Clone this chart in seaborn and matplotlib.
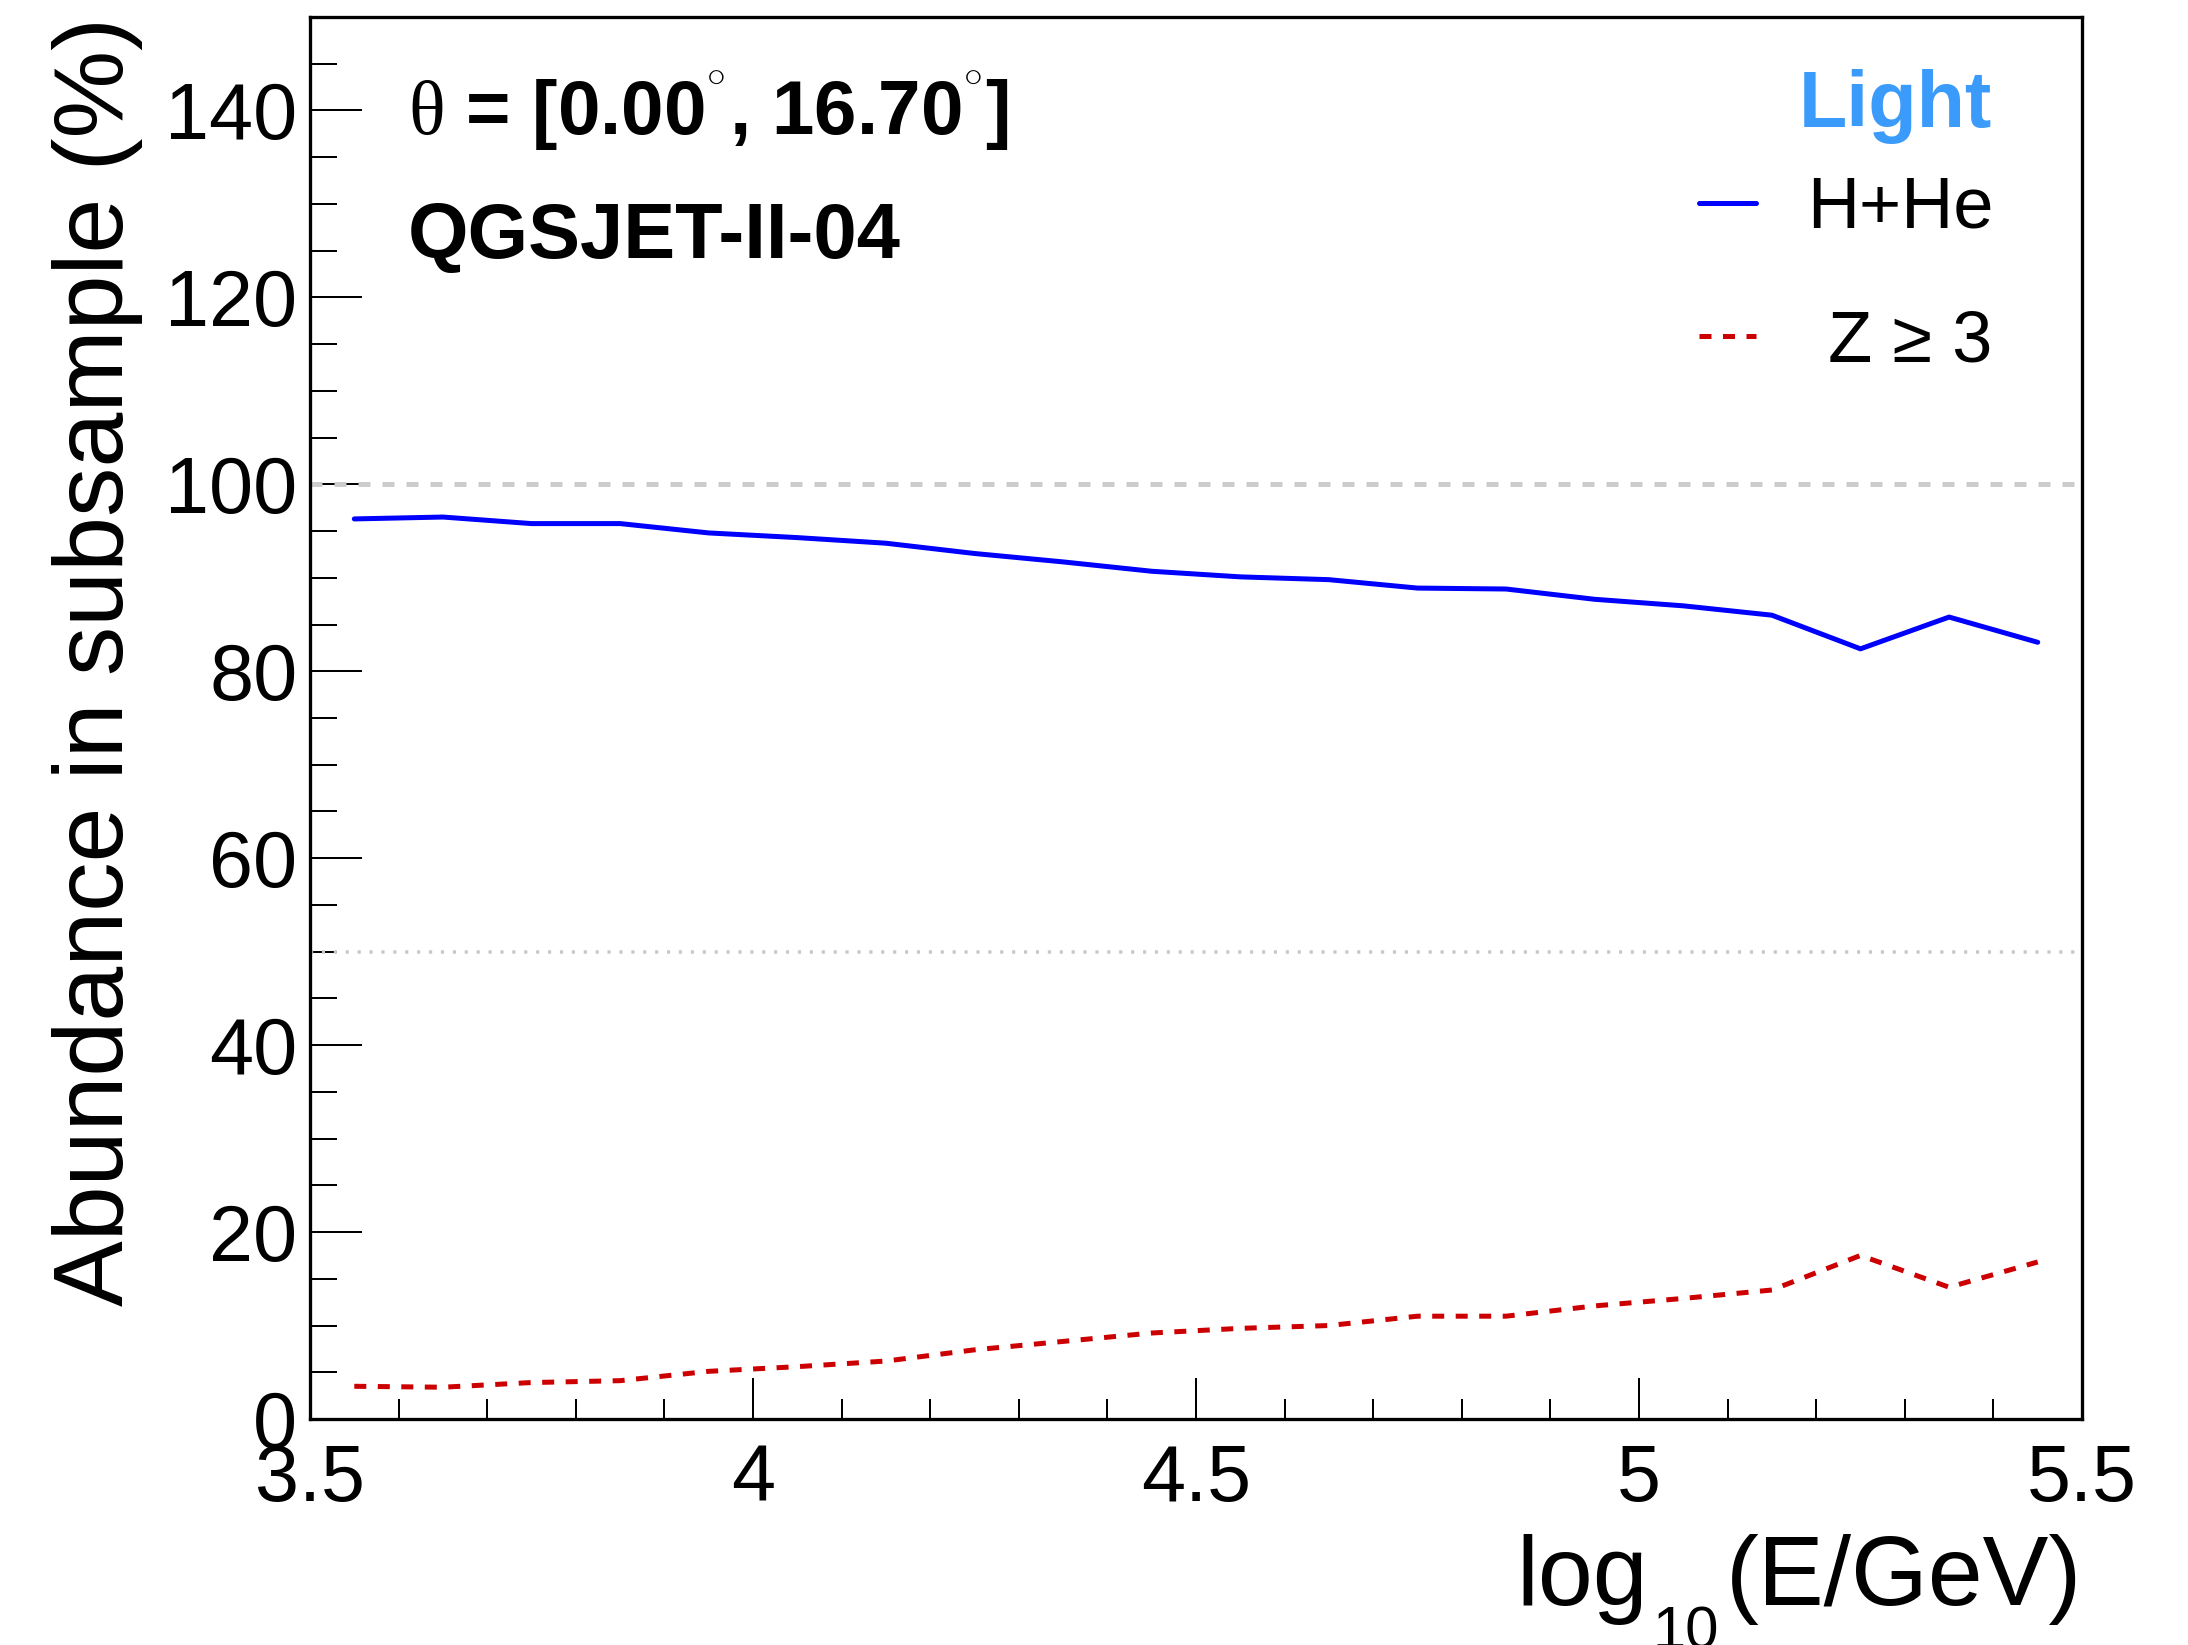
import numpy as np
import pandas as pd
import matplotlib
matplotlib.use("Agg")
import matplotlib.pyplot as plt
from matplotlib.ticker import MultipleLocator
import seaborn as sns

# ---------------- data ----------------
log_energy = [3.55, 3.65, 3.75, 3.85, 3.95, 4.05, 4.15, 4.25, 4.35, 4.45,
              4.55, 4.65, 4.75, 4.85, 4.95, 5.05, 5.15, 5.25, 5.35, 5.45]
light_hhe = [96.3, 96.5, 95.8, 95.8, 94.8, 94.3, 93.7, 92.6, 91.7, 90.7,
             90.1, 89.8, 88.9, 88.8, 87.7, 87.0, 86.0, 82.4, 85.8, 83.1]
heavy_z3 = [3.5, 3.4, 3.9, 4.1, 5.1, 5.6, 6.2, 7.4, 8.3, 9.2,
            9.7, 10.0, 11.0, 11.0, 12.1, 12.9, 13.8, 17.5, 14.1, 16.8]
series_labels = ["H+He", " Z \u2265 3"]
legend_title = "Light"
ref_levels = [100, 50]
x_ticks_major = [3.5, 4.0, 4.5, 5.0, 5.5]
x_tick_labels = ["3.5", "4", "4.5", "5", "5.5"]

df = pd.DataFrame({"logE": log_energy, "hhe": light_hhe, "z3": heavy_z3})

# ---------------- style ----------------
sns.set_style("ticks")
plt.rcParams["font.family"] = ["Liberation Sans", "DejaVu Sans"]
plt.rcParams["mathtext.fontset"] = "custom"
plt.rcParams["mathtext.rm"] = "Liberation Sans"
plt.rcParams["mathtext.it"] = "Liberation Sans:italic"
plt.rcParams["mathtext.bf"] = "Liberation Sans:bold"
plt.rcParams["mathtext.sf"] = "Liberation Sans"
plt.rcParams["mathtext.tt"] = "Liberation Serif"
for key in ["text.color", "axes.labelcolor", "xtick.color", "ytick.color",
            "axes.edgecolor"]:
    plt.rcParams[key] = "black"

PX = 0.72  # points per pixel at dpi 100
AX_W, AX_H = 2082 - 310, 1419 - 17

fig = plt.figure(figsize=(21.88, 16.45), dpi=100)
ax = fig.add_axes([310 / 2188, 1 - 1419 / 1645, AX_W / 2188, AX_H / 1645])

# reference lines
ax.axhline(ref_levels[0], color="#cccccc", lw=5 * PX, linestyle=(0, (2.4, 2.4)),
           dash_capstyle="butt", zorder=1)
ax.axhline(ref_levels[1], color="#c8c8c8", lw=3.5 * PX, linestyle=(0, (0.9, 2.5)),
           dash_capstyle="butt", zorder=1)

sns.lineplot(data=df, x="logE", y="hhe", ax=ax, color="#0000ff", lw=5 * PX,
             label=series_labels[0], zorder=3)
sns.lineplot(data=df, x="logE", y="z3", ax=ax, color="#cc0000", lw=5 * PX,
             linestyle=(0, (2.4, 2.3)), dash_capstyle="butt",
             label=series_labels[1], zorder=3)

ax.set_xlim(3.5, 5.5)
ax.set_ylim(0, 150)
ax.xaxis.set_major_locator(MultipleLocator(0.5))
ax.xaxis.set_minor_locator(MultipleLocator(0.1))
ax.yaxis.set_major_locator(MultipleLocator(20))
ax.yaxis.set_minor_locator(MultipleLocator(5))
ax.set_xticks(x_ticks_major)
ax.set_xticklabels(x_tick_labels)

for s in ax.spines.values():
    s.set_linewidth(3.3 * PX)
    s.set_color("black")

ax.tick_params(axis="x", which="major", direction="in", length=41 * PX, width=2 * PX,
               labelsize=57, pad=17, top=False, bottom=True, color="black",
               labelcolor="black")
ax.tick_params(axis="x", which="minor", direction="in", length=20 * PX, width=2 * PX,
               top=False, bottom=True, color="black")
ax.tick_params(axis="y", which="major", direction="in", length=52 * PX, width=2 * PX,
               labelsize=57, pad=9, left=True, right=False, color="black",
               labelcolor="black")
ax.tick_params(axis="y", which="minor", direction="in", length=27 * PX, width=2 * PX,
               left=True, right=False, color="black")

# x axis title, built from pieces so the subscript sits low like the original
ax.set_xlabel("")
xl_y = -(1605 - 1419) / AX_H
xl_main = ax.text(1.0, xl_y, "(E/GeV)", transform=ax.transAxes,
                  ha="right", va="baseline", fontsize=71, color="black")
xl_sub = ax.annotate("10", xy=(0, 0.21), xycoords=xl_main, xytext=(-5, 0),
                     textcoords="offset points", ha="right", va="top",
                     fontsize=43, color="black", annotation_clip=False)
xl_log = ax.annotate("log", xy=(0, xl_y), xycoords=(xl_sub, ax.transAxes),
                     xytext=(-3, 0), textcoords="offset points", ha="right",
                     va="baseline", fontsize=71, color="black",
                     annotation_clip=False)

ax.set_ylabel("Abundance in subsample (%)", fontsize=71, loc="top", color="black")
ax.yaxis.set_label_coords(-(310 - 143) / AX_W, 1.0)

# annotation texts
ax.text((408 - 310) / AX_W, 1 - (135 - 17) / AX_H,
        r"$\mathtt{\theta}$ = [0.00$^{{}^{\circ}}$, 16.70$^{{}^{\circ}}$]",
        transform=ax.transAxes, fontsize=55, fontweight="bold", va="baseline",
        ha="left", color="black")
ax.text((408 - 310) / AX_W, 1 - (258 - 17) / AX_H, "QGSJET-II-04",
        transform=ax.transAxes, fontsize=56, fontweight="bold", va="baseline",
        ha="left", color="black")

# legend header and entries
ax.text((1992 - 310) / AX_W, 1 - (127 - 17) / AX_H, legend_title,
        transform=ax.transAxes, fontsize=57, fontweight="bold", color="#3b9bfa",
        ha="right", va="baseline")
handles, labels = ax.get_legend_handles_labels()
leg = ax.legend(handles, labels, loc="upper right",
                bbox_to_anchor=((1994 - 310) / AX_W, 1 - (176 - 17) / AX_H),
                frameon=False, fontsize=52, handlelength=0.78, handletextpad=0.72,
                labelspacing=0.92, borderpad=0, borderaxespad=0)
for t in leg.get_texts():
    t.set_color("black")

fig.savefig("out.png", dpi=100)
